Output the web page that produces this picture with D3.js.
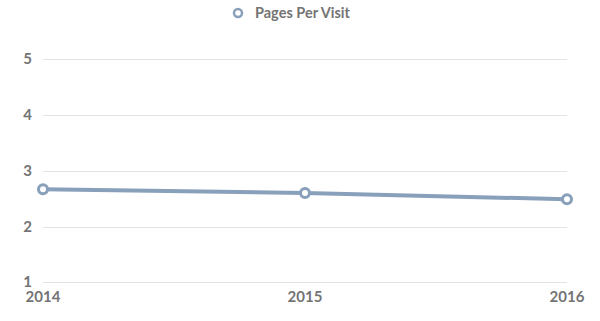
<!DOCTYPE html>
<html>
<head>
<meta charset="utf-8">
<script src="https://cdn.jsdelivr.net/npm/d3@7"></script>
<style>
  body { margin: 0; background: #fff; }
  text { font-family: Lato, "Open Sans", sans-serif; font-weight: bold; fill: #747474; }
</style>
</head>
<body>
<div id="chart"></div>
<script>
var years = ['2014', '2015', '2016'];
var pagesPerVisit = [2.67, 2.6, 2.49];
var yTicks = [1, 2, 3, 4, 5];
var seriesName = 'Pages Per Visit';

var w = 600, h = 321;
var lineColor = '#88a0ba';

var svg = d3.select('#chart').append('svg')
  .attr('width', w)
  .attr('height', h);

var x = d3.scalePoint().domain(years).range([43, 567]);
var y = d3.scaleLinear().domain([1, 5]).range([282.3, 59.3]);

// gridlines
svg.selectAll('line.grid')
  .data(yTicks)
  .enter().append('line')
  .attr('class', 'grid')
  .attr('x1', 43).attr('x2', 567)
  .attr('y1', function(d) { return Math.round(y(d)) + 0.5; })
  .attr('y2', function(d) { return Math.round(y(d)) + 0.5; })
  .attr('stroke', '#e3e3e3')
  .attr('stroke-width', 1);

// y labels
svg.selectAll('text.ylab')
  .data(yTicks)
  .enter().append('text')
  .attr('class', 'ylab')
  .attr('x', 32)
  .attr('y', function(d) { return y(d) + 5; })
  .attr('text-anchor', 'end')
  .style('font-size', '15px')
  .text(function(d) { return d; });

// x labels
svg.selectAll('text.xlab')
  .data(years)
  .enter().append('text')
  .attr('class', 'xlab')
  .attr('x', function(d) { return x(d); })
  .attr('y', 302)
  .attr('text-anchor', 'middle')
  .style('font-size', '15px')
  .text(function(d) { return d; });

// line
var line = d3.line()
  .x(function(d, i) { return x(years[i]); })
  .y(function(d) { return y(d); });

svg.append('path')
  .datum(pagesPerVisit)
  .attr('d', line)
  .attr('fill', 'none')
  .attr('stroke', lineColor)
  .attr('stroke-width', 4);

svg.selectAll('circle.pt')
  .data(pagesPerVisit)
  .enter().append('circle')
  .attr('class', 'pt')
  .attr('cx', function(d, i) { return x(years[i]); })
  .attr('cy', function(d) { return y(d); })
  .attr('r', 4.5)
  .attr('fill', '#fff')
  .attr('stroke', lineColor)
  .attr('stroke-width', 3);

// legend
var legend = svg.append('g');
legend.append('circle')
  .attr('cx', 238).attr('cy', 13)
  .attr('r', 4)
  .attr('fill', '#fff')
  .attr('stroke', lineColor)
  .attr('stroke-width', 2.5);
legend.append('text')
  .attr('x', 255).attr('y', 18)
  .style('font-size', '14.5px')
  .text(seriesName);
</script>
</body>
</html>
